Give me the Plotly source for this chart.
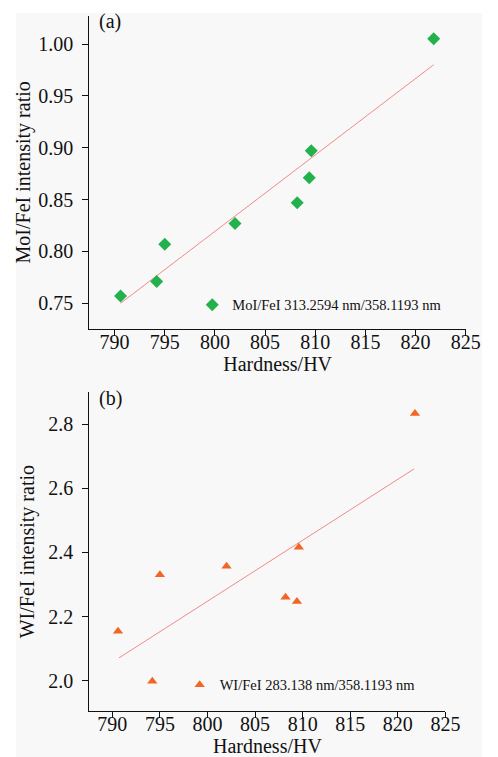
import plotly.graph_objects as go

# ---- data ----
hardness = [790.6, 794.2, 795.0, 802.0, 808.2, 809.4, 809.6, 821.8]
mo_fe_ratio = [0.757, 0.771, 0.807, 0.827, 0.847, 0.871, 0.897, 1.005]
w_fe_ratio = [2.154, 1.998, 2.330, 2.357, 2.260, 2.247, 2.416, 2.833]

fit_a_x = [790.6, 821.8]
fit_a_y = [0.750, 0.980]
fit_b_x = [790.7, 821.7]
fit_b_y = [2.071, 2.660]

x_ticks = [790, 795, 800, 805, 810, 815, 820, 825]
ya_ticks = [0.75, 0.80, 0.85, 0.90, 0.95, 1.00]
ya_ticklabels = ["0.75", "0.80", "0.85", "0.90", "0.95", "1.00"]
yb_ticks = [2.0, 2.2, 2.4, 2.6, 2.8]
yb_ticklabels = ["2.0", "2.2", "2.4", "2.6", "2.8"]

label_a = "MoI/FeI 313.2594 nm/358.1193 nm"
label_b = "WI/FeI 283.138 nm/358.1193 nm"

FONT = "Liberation Serif, Times New Roman, serif"
W, H = 498, 757

fig = go.Figure()

fig.add_trace(go.Scatter(
    x=fit_a_x, y=fit_a_y, mode="lines", xaxis="x", yaxis="y",
    line=dict(color="#f08a8a", width=1), showlegend=False, hoverinfo="skip"))
fig.add_trace(go.Scatter(
    x=hardness, y=mo_fe_ratio, mode="markers", xaxis="x", yaxis="y",
    name=label_a, legend="legend",
    marker=dict(symbol="diamond", size=10, color="#23b14d", line=dict(width=0))))

fig.add_trace(go.Scatter(
    x=fit_b_x, y=fit_b_y, mode="lines", xaxis="x2", yaxis="y2",
    line=dict(color="#f08a8a", width=1), showlegend=False, hoverinfo="skip"))
fig.add_trace(go.Scatter(
    x=hardness, y=w_fe_ratio, mode="markers", xaxis="x2", yaxis="y2",
    name=label_b, legend="legend2",
    marker=dict(symbol="triangle-up", size=9, color="#f26522", line=dict(width=0))))

def px_x(p):
    return p / W

def px_y(p):
    return 1 - p / H

axis_common = dict(
    showline=True, linecolor="#111111", linewidth=1.3,
    ticks="outside", ticklen=6, tickwidth=1.2, tickcolor="#111111",
    showgrid=False, zeroline=False,
    tickfont=dict(family=FONT, size=20, color="#111111"),
)
title_font = dict(family=FONT, size=20, color="#111111")

fig.update_layout(
    width=W, height=H,
    margin=dict(l=0, r=0, t=0, b=0),
    paper_bgcolor="white",
    plot_bgcolor="rgba(0,0,0,0)",
    font=dict(family=FONT, size=20, color="#111111"),
    xaxis=dict(domain=[px_x(84), px_x(472)], range=[787.5, 825.0],
               tickvals=x_ticks, anchor="y", ticklabelstandoff=-11,
               title=dict(text="Hardness/HV", font=title_font, standoff=0),
               **axis_common),
    yaxis=dict(domain=[px_y(320.7), px_y(8)], range=[0.7255, 1.027],
               tickvals=ya_ticks, ticktext=ya_ticklabels, anchor="x", ticklabelstandoff=5,
               title=dict(text="MoI/FeI intensity ratio", font=title_font, standoff=2),
               **axis_common),
    xaxis2=dict(domain=[px_x(84), px_x(451)], range=[787.6, 825.0],
                tickvals=x_ticks, anchor="y2", ticklabelstandoff=-11,
                title=dict(text="Hardness/HV", font=title_font, standoff=0),
                **axis_common),
    yaxis2=dict(domain=[px_y(703.3), px_y(384)], range=[1.9046, 2.8998],
                tickvals=yb_ticks, ticktext=yb_ticklabels, anchor="x2", ticklabelstandoff=5,
                title=dict(text="WI/FeI intensity ratio", font=title_font, standoff=8),
                **axis_common),
    legend=dict(x=px_x(190), y=px_y(296.7), xanchor="left", yanchor="middle",
                bgcolor="rgba(0,0,0,0)", borderwidth=0,
                font=dict(family=FONT, size=14.5, color="#111111")),
    legend2=dict(x=px_x(177), y=px_y(676.7), xanchor="left", yanchor="middle",
                 bgcolor="rgba(0,0,0,0)", borderwidth=0,
                 font=dict(family=FONT, size=14.5, color="#111111")),
    shapes=[dict(type="rect", xref="paper", yref="paper", layer="below",
                 x0=px_x(8), x1=px_x(489), y0=0, y1=px_y(5),
                 fillcolor="#f8f8f8", line=dict(width=0))],
    annotations=[
        dict(text="(a)", xref="paper", yref="paper", x=px_x(92), y=px_y(14),
             xanchor="left", yanchor="middle", showarrow=False,
             font=dict(family=FONT, size=20, color="#111111")),
        dict(text="(b)", xref="paper", yref="paper", x=px_x(92), y=px_y(390),
             xanchor="left", yanchor="middle", showarrow=False,
             font=dict(family=FONT, size=20, color="#111111")),
    ],
)

fig.write_html("out.html")
